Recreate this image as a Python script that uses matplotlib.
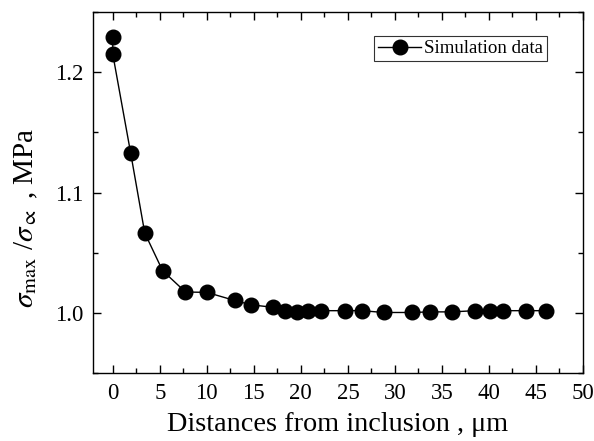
import matplotlib
matplotlib.use("Agg")
import matplotlib.pyplot as plt
from matplotlib.ticker import MultipleLocator

# distance from inclusion (um) and normalised max stress
distance = [0.0, 0.0, 1.9, 3.4, 5.3, 7.73, 10.0, 12.95, 14.67, 17.05, 18.33,
            19.55, 20.8, 22.16, 24.68, 26.5, 28.8, 31.8, 33.76, 36.1, 38.5,
            40.1, 41.5, 43.9, 46.1]
stress_ratio = [1.229, 1.215, 1.133, 1.0665, 1.0352, 1.0175, 1.0172, 1.0105,
                1.0069, 1.0048, 1.002, 1.0005, 1.002, 1.002, 1.002, 1.002,
                1.0005, 1.0005, 1.001, 1.001, 1.002, 1.002, 1.002, 1.002,
                1.002]

plt.rcParams['font.family'] = ['Liberation Serif', 'DejaVu Serif']
plt.rcParams['mathtext.fontset'] = 'stix'

fig = plt.figure(figsize=(5.94, 4.41), dpi=100)
ax = fig.add_axes([0.1566, 0.1535, 0.8249, 0.8193])

ax.plot(distance, stress_ratio, color='black', lw=1.0, marker='o',
        markersize=10.5, markerfacecolor='black', label='Simulation data')

ax.set_xlim(-2.1, 50)
ax.set_ylim(0.95, 1.25)
ax.xaxis.set_major_locator(MultipleLocator(5))
ax.xaxis.set_minor_locator(MultipleLocator(2.5))
ax.yaxis.set_major_locator(MultipleLocator(0.1))
ax.yaxis.set_minor_locator(MultipleLocator(0.05))
ax.tick_params(which='both', direction='in', top=True, right=True,
               width=1.0, labelsize=16.5, pad=7)
ax.tick_params(which='major', length=6)
ax.tick_params(which='minor', length=3.5)
for s in ax.spines.values():
    s.set_linewidth(1.0)

ax.set_xlabel('Distances from inclusion , \u03bcm', fontsize=20.3, labelpad=6)
ax.set_ylabel(r'$\sigma_{\rm max}$ /$\sigma_{\propto}$ , MPa', fontsize=21)
ax.yaxis.set_label_coords(-0.108, 0.43)

leg = ax.legend(loc='upper right', bbox_to_anchor=(0.9265, 0.9325),
                fontsize=13.6, frameon=True, fancybox=False, borderpad=0.2,
                handlelength=2.3, handletextpad=0.15, borderaxespad=0)
leg.get_frame().set_edgecolor('black')
leg.get_frame().set_linewidth(0.8)

fig.savefig('out.png', dpi=100)
